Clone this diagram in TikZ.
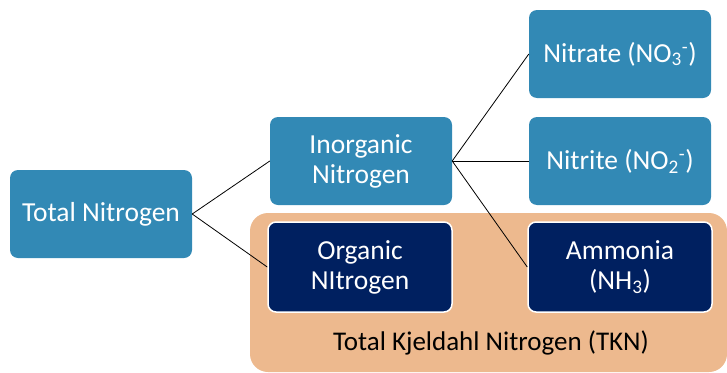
\documentclass[tikz,border=0pt]{standalone}
\usepackage{fontspec}
\setmainfont{Carlito}
\usetikzlibrary{shapes.geometric, arrows}
\definecolor{boxblue}{RGB}{50,137,181}
\definecolor{boxnavy}{RGB}{0,32,96}
\definecolor{tknpeach}{RGB}{237,185,142}
\tikzstyle{light} = [rectangle, rounded corners=8pt, minimum width=182pt, minimum height=88pt, inner sep=0pt, align=center, text=white, fill=boxblue, font=\fontsize{27.5}{30}\selectfont]
\tikzstyle{dark} = [rectangle, rounded corners=8pt, minimum width=184pt, minimum height=90pt, inner sep=0pt, align=center, text=white, fill=boxnavy, draw=white, line width=1.5pt, font=\fontsize{27.5}{30}\selectfont]
\tikzstyle{tkn} = [rectangle, rounded corners=18pt, fill=tknpeach]
\tikzstyle{link} = [line width=0.8pt, black]

\begin{document}
\begin{tikzpicture}[x=1pt, y=-1pt]
    \useasboundingbox (0,0) rectangle (727,372);
    \fill [tkn] (250,213) rectangle (727,372);
    \node [font=\fontsize{27}{30}\selectfont] at (491,343) (tknlabel) {Total Kjeldahl Nitrogen (TKN)};

    \node [light] at (101,214) (total) {Total Nitrogen};
    \node [light] at (361,161) (inorg) {Inorganic\\Nitrogen};
    \node [light] at (620,54) (nitrate) {Nitrate (NO\textsubscript{3}\textsuperscript{-})};
    \node [light] at (620,161) (nitrite) {Nitrite (NO\textsubscript{2}\textsuperscript{-})};
    \node [dark] at (360,267) (organic) {Organic\\NItrogen};
    \node [dark] at (620,267) (ammonia) {Ammonia\\(NH\textsubscript{3})};

    \draw [link] (total.east) -- (inorg.west);
    \draw [link] (total.east) -- (organic.west);
    \draw [link] (inorg.east) -- (nitrate.west);
    \draw [link] (inorg.east) -- (nitrite.west);
    \draw [link] (inorg.east) -- (ammonia.west);
\end{tikzpicture}
\end{document}
